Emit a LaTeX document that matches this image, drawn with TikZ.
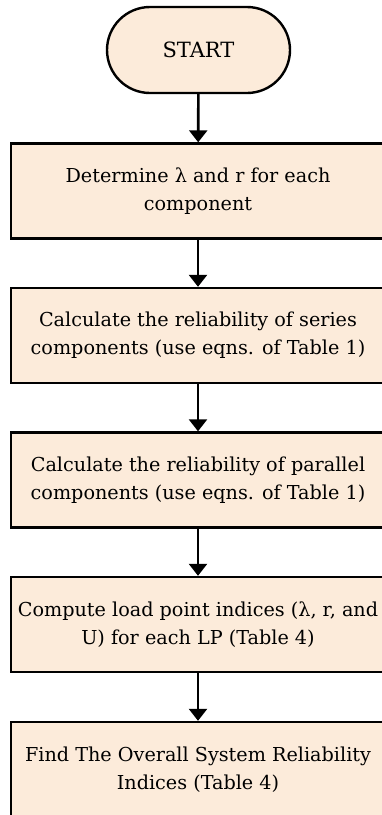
\documentclass[tikz,border=0pt]{standalone}
\usepackage{fontspec}
\setmainfont{DejaVu Serif}
\usetikzlibrary{shapes.misc,arrows.meta}
\definecolor{peach}{RGB}{252,235,218}
\begin{document}
\begin{tikzpicture}[x=1pt,y=-1pt,
  boxstyle/.style={draw=black,line width=2.4pt,fill=peach,minimum width=374pt,minimum height=95pt,align=center,inner sep=0pt,font=\fontsize{19.2}{28}\selectfont},
  termstyle/.style={draw=black,line width=2.4pt,fill=peach,rounded rectangle,minimum width=183pt,minimum height=86pt,inner sep=0pt,font=\fontsize{21}{28}\selectfont},
  flow/.style={line width=2.6pt,-{Triangle[length=12pt,width=18pt]}}]
\useasboundingbox (0,0) rectangle (381,815);
\node[termstyle] (start) at (198.5,50) {START};
\node[boxstyle] (b1) at (198,191) {Determine λ and r for each\\component};
\node[boxstyle] (b2) at (198,335.5) {Calculate the reliability of series\\components (use eqns. of Table 1)};
\node[boxstyle] (b3) at (198,480) {Calculate the reliability of parallel\\components (use eqns. of Table 1)};
\node[boxstyle] (b4) at (198,624.5) {Compute load point indices (λ, r, and\\U) for each LP (Table 4)};
\node[boxstyle] (b5) at (198,769.5) {Find The Overall System Reliability\\Indices (Table 4)};
\draw[flow] (start) -- (b1);
\draw[flow] (b1) -- (b2);
\draw[flow] (b2) -- (b3);
\draw[flow] (b3) -- (b4);
\draw[flow] (b4) -- (b5);
\end{tikzpicture}
\end{document}
